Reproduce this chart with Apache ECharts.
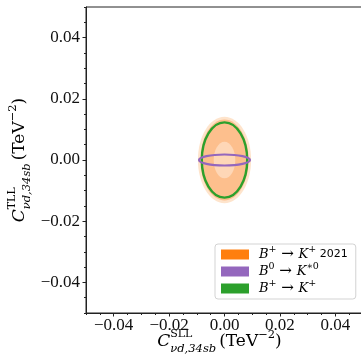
<!DOCTYPE html>
<html><head><meta charset="utf-8">
<script src="https://cdn.jsdelivr.net/npm/echarts@6/dist/echarts.min.js"></script>
<style>html,body{margin:0;padding:0;background:#fff}#c{width:361px;height:362px}</style>
</head><body><div id="c"></div>
<script>
// ---- data ----
const xTicks = [-0.04, -0.02, 0, 0.02, 0.04];
const yTicks = [-0.04, -0.02, 0, 0.02, 0.04];
const seriesNames = ['B+ → K+ 2021', 'B0 → K*0', 'B+ → K+'];
// ellipses: [centre x, centre y, semi-axis x, semi-axis y]
const bkOld2021 = [[0, 0, 0.0096, 0.0141], [0, 0, 0.0087, 0.0132], [0, 0, 0.0039, 0.0060]];
const bKstar = [[0, 0, 0.0092, 0.0018]];
const bk = [[0, 0, 0.0082, 0.0123]];

// ---- styles ----
const orangeFills = ['#fee4cc', '#fdbf8d', '#fed7b7'];
const serif = 'Liberation Serif';
const dvs = 'DejaVu Serif';
const fmt = v => (v < 0 ? '\u2212' : '') + Math.abs(v).toFixed(2);

function ellipseItem(styleFn) {
  return function (params, api) {
    const c = api.coord([api.value(0), api.value(1)]);
    const s = api.size([api.value(2), api.value(3)]);
    return { type: 'ellipse', shape: { cx: c[0], cy: c[1], rx: s[0], ry: s[1] }, style: styleFn(params.dataIndex) };
  };
}

const mathRich = {
  m: { align: 'left', fontFamily: dvs, fontStyle: 'italic', fontSize: 17, lineHeight: 26, color: '#000' },
  sup: { align: 'left', fontFamily: dvs, fontSize: 11, lineHeight: 14, verticalAlign: 'top', width: 0, color: '#000' },
  sub: { align: 'left', fontFamily: dvs, fontStyle: 'italic', fontSize: 11.5, lineHeight: 12, verticalAlign: 'bottom', padding: [0, 3, 0, 0], color: '#000' },
  t: { align: 'left', fontFamily: dvs, fontSize: 17, lineHeight: 26, color: '#000' },
  e: { align: 'left', fontFamily: dvs, fontSize: 11.5, lineHeight: 15, verticalAlign: 'top', color: '#000' }
};
const xName = '{m|C}{sup|SLL}{sub|νd,34sb}{t|(TeV}{e|−2}{t|)}';
const yName = '{m|C}{sup|TLL}{sub|νd,34sb}{t|(TeV}{e|−2}{t|)}';

const legendRich = {
  b: { align: 'left', fontFamily: dvs, fontStyle: 'italic', fontSize: 13, lineHeight: 19, color: '#000' },
  s: { align: 'left', fontFamily: dvs, fontSize: 9.5, lineHeight: 12, verticalAlign: 'top', color: '#000' },
  a: { align: 'left', fontFamily: dvs, fontSize: 15, lineHeight: 19, color: '#000' },
  y: { align: 'left', fontFamily: 'DejaVu Sans', fontSize: 11, lineHeight: 19, color: '#000' }
};
const legendText = {
  [seriesNames[0]]: '{b|B}{s|+}{a| → }{b|K}{s|+}{y| 2021}',
  [seriesNames[1]]: '{b|B}{s|0}{a| → }{b|K}{s|∗0}',
  [seriesNames[2]]: '{b|B}{s|+}{a| → }{b|K}{s|+}'
};

const chart = echarts.init(document.getElementById('c'), null, { renderer: 'canvas' });
chart.setOption({
  animation: false,
  backgroundColor: '#fff',
  grid: { left: 86, top: 7, width: 277, height: 306, show: true, borderColor: '#222', borderWidth: 1, outerBoundsMode: 'none', containLabel: false },
  legend: {
    orient: 'vertical', left: 215, top: 244,
    padding: [1, 8, 3, 6], itemGap: 0, itemWidth: 28, itemHeight: 10,
    backgroundColor: '#fff', borderColor: '#d3d3d3', borderWidth: 1, borderRadius: 3,
    data: [
      { name: seriesNames[0], icon: 'rect', itemStyle: { color: '#ff7f0e' } },
      { name: seriesNames[1], icon: 'rect', itemStyle: { color: '#9467bd' } },
      { name: seriesNames[2], icon: 'rect', itemStyle: { color: '#2ca02c' } }
    ],
    formatter: n => legendText[n],
    textStyle: { rich: legendRich, padding: [0, 0, 0, 5] },
    selectedMode: false
  },
  xAxis: [{
    type: 'value', min: -0.05, max: 0.05, position: 'bottom',
    axisLine: { onZero: false, lineStyle: { color: '#222', width: 1 } },
    axisTick: { customValues: xTicks, length: 3.5, lineStyle: { color: '#222' } },
    axisLabel: { customValues: xTicks, formatter: fmt, fontFamily: serif, fontSize: 17, color: '#111', margin: 4 },
    splitLine: { show: false },
    name: xName, nameLocation: 'middle', nameGap: 16, nameMoveOverlap: false,
    nameTextStyle: { rich: mathRich, padding: [0, 10, 0, 0] }
  }, {
    type: 'value', min: -0.05, max: 0.05, interval: 0.005, position: 'bottom',
    axisLine: { show: false, onZero: false },
    axisTick: { length: 2, lineStyle: { color: '#222' } },
    axisLabel: { show: false }, splitLine: { show: false }
  }],
  yAxis: [{
    type: 'value', min: -0.05, max: 0.05, position: 'left',
    axisLine: { onZero: false, lineStyle: { color: '#222', width: 1 } },
    axisTick: { customValues: yTicks, length: 3.5, lineStyle: { color: '#222' } },
    axisLabel: { customValues: yTicks, formatter: fmt, fontFamily: serif, fontSize: 17, color: '#111', margin: 6 },
    splitLine: { show: false },
    name: yName, nameLocation: 'middle', nameGap: 53, nameRotate: 90, nameMoveOverlap: false,
    nameTextStyle: { rich: mathRich }
  }, {
    type: 'value', min: -0.05, max: 0.05, interval: 0.005, position: 'left',
    axisLine: { show: false, onZero: false },
    axisTick: { length: 2, lineStyle: { color: '#222' } },
    axisLabel: { show: false }, splitLine: { show: false }
  }],
  series: [{
    name: seriesNames[0], type: 'custom', xAxisIndex: 0, yAxisIndex: 0,
    itemStyle: { color: '#ff7f0e' },
    renderItem: ellipseItem(i => ({ fill: orangeFills[i], stroke: null })),
    data: bkOld2021, z: 2
  }, {
    name: seriesNames[2], type: 'custom', xAxisIndex: 0, yAxisIndex: 0,
    itemStyle: { color: '#2ca02c' },
    renderItem: ellipseItem(() => ({ fill: 'none', stroke: '#2ca02c', lineWidth: 2.4 })),
    data: bk, z: 3
  }, {
    name: seriesNames[1], type: 'custom', xAxisIndex: 0, yAxisIndex: 0,
    itemStyle: { color: '#9467bd' },
    renderItem: ellipseItem(() => ({ fill: 'none', stroke: '#9467bd', lineWidth: 2.2 })),
    data: bKstar, z: 4
  }]
});
</script></body></html>
